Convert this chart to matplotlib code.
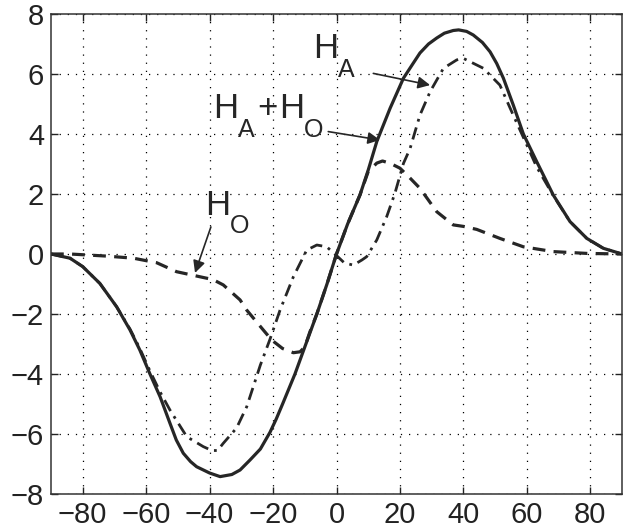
import matplotlib
matplotlib.use("Agg")
import matplotlib.pyplot as plt

plt.rcParams["font.family"] = ["Liberation Sans", "DejaVu Sans"]

# H_A + H_O (solid)
x_sum = [-90, -84, -80, -74.6, -69.3, -65.1, -62, -58.8, -55.6, -52.5, -50.5, -48.3,
         -46, -44.1, -40, -36.7, -33, -30.4, -27.3, -24, -21, -19, -17, -13.1,
         -10, -6.2, -3, 0, 3.5, 7.4, 10, 12.7, 16.9, 21.1, 24, 26.3, 29, 31.6, 34,
         36.8, 38.5, 41, 43.1, 46, 48.4, 50.5, 52.6, 55.7, 58.9, 63.1, 68.3, 73.6,
         78.9, 84.1, 90]
y_sum = [0, -0.14, -0.42, -0.98, -1.76, -2.53, -3.2, -4.0, -4.76, -5.64, -6.2, -6.64,
         -6.92, -7.09, -7.3, -7.42, -7.35, -7.2, -6.87, -6.5, -5.95, -5.5,
         -5.0, -4.0, -3.1, -2.0, -1.0, 0, 1.0, 1.97, 2.8, 3.75, 4.86, 5.86, 6.33, 6.7,
         7.0, 7.2, 7.36, 7.45, 7.47, 7.42, 7.3, 7.05, 6.74, 6.35, 5.86, 4.97, 4.0,
         3.08, 1.97, 1.08, 0.52, 0.19, 0]

# H_A (dash-dot)
x_a = [-90, -84, -80, -74.6, -69.3, -65.1, -62, -58.8, -55.6, -52.5, -47.2, -42,
       -39.3, -37.5, -35.7, -31.5, -28.3, -24, -21, -17.8, -13.6, -9.4, -6.2, -3.1,
       0, 2.5, 5.3, 8, 9.5, 12.7, 15.8, 18.4, 21.1, 23.2, 26.3, 29.5, 33.7, 37.9, 40,
       46.3, 51.5, 55.7, 60, 63.1, 68.3, 73.6, 78.9, 84.1, 90]
y_a = [0, -0.14, -0.42, -0.98, -1.76, -2.5, -3.15, -3.9, -4.6, -5.2, -6.09, -6.42,
       -6.55, -6.55, -6.31, -5.8, -5.09, -3.7, -2.85, -1.87, -0.76, 0.13, 0.3, 0.24,
       -0.05, -0.3, -0.37, -0.2, -0.09, 0.47, 1.24, 2.02, 3.02, 3.52, 4.63, 5.41,
       6.19, 6.47, 6.52, 6.19, 5.63, 4.63, 3.63, 2.9, 1.95, 1.08, 0.52, 0.19, 0]

# H_O (dashed)
x_o = [-90, -84, -72.4, -64, -56.7, -50.4, -43, -39, -35.7, -30.4, -28.3, -23.1,
       -20.4, -17, -13.6, -11.5, -10, -8.4, -6.2, -3, 0, 3.5, 7.4, 10, 12.7, 14.5,
       17, 20, 23, 26.3, 31.6, 36.8, 40, 44.2, 51.5, 58.9, 68.3, 78.9, 90]
y_o = [0, 0, -0.07, -0.14, -0.29, -0.59, -0.76, -0.85, -1.03, -1.53, -1.87, -2.53,
       -2.87, -3.15, -3.29, -3.26, -3.1, -2.6, -2.0, -1.0, 0, 1.0, 1.97, 2.75, 3.03,
       3.1, 3.02, 2.86, 2.55, 2.19, 1.41, 0.97, 0.92, 0.82, 0.52, 0.24, 0.08, 0.02, 0]

xticks = [-80, -60, -40, -20, 0, 20, 40, 60, 80]
yticks = [-8, -6, -4, -2, 0, 2, 4, 6, 8]

# labels: pieces (text, is subscript, x offset in px), anchor, arrow start, arrow tip
labels = [
    ([("H", False, 0), ("O", True, 25)], (-41.45, 1.3), (-39.6, 0.9), (-44.6, -0.63)),
    ([("H", False, 0), ("A", True, 25.3), ("+", False, 44.5), ("H", False, 66.5),
      ("O", True, 91.5)], (-39.0, 4.52), (-2.6, 4.08), (13.7, 3.8)),
    ([("H", False, 0), ("A", True, 25)], (-7.3, 6.52), (11.6, 6.02), (29.5, 5.63)),
]

ink = "#262626"

fig = plt.figure(figsize=(6.31, 5.32), dpi=100)
ax = fig.add_axes([0.0808, 0.0714, 0.905, 0.9023])

ax.plot(x_sum, y_sum, color=ink, lw=2.3, solid_joinstyle="round")
ax.plot(x_a, y_a, color=ink, lw=2.0, linestyle=(0, (4.5, 2.2, 1.0, 2.2)))
ax.plot(x_o, y_o, color=ink, lw=2.3, linestyle=(0, (4.0, 2.6)))

ax.set_xlim(-90, 90)
ax.set_ylim(-8, 8)
ax.set_xticks(xticks)
ax.set_yticks(yticks)
ax.grid(True, color="black", linestyle=(0, (1, 5.5)), lw=0.9)
ax.tick_params(direction="in", length=5, width=1, top=True, right=True,
               labelsize=21, colors="#222222", pad=5)
for s in ax.spines.values():
    s.set_linewidth(1.1)
    s.set_color("#333333")

for pieces, anchor, start, tip in labels:
    for s, sub, dx in pieces:
        ax.annotate(s, anchor, xytext=(dx, -18.4 if sub else 0),
                    textcoords="offset pixels", fontsize=18 if sub else 25,
                    color=ink, ha="left", va="baseline")
    ax.annotate("", xy=tip, xytext=start,
                arrowprops=dict(arrowstyle="-|>", color=ink, lw=1.2,
                                mutation_scale=18, shrinkA=0, shrinkB=0))

fig.savefig("out.png", dpi=100)
